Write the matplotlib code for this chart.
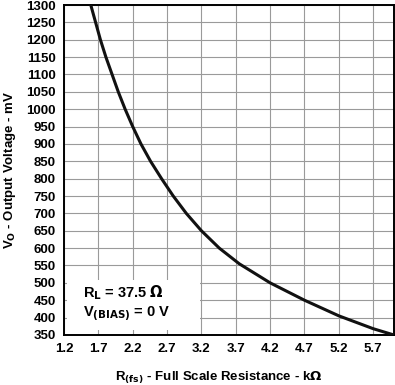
import numpy as np
import matplotlib.pyplot as plt
from matplotlib.patches import Rectangle

# Output voltage vs full scale resistance
r_fs = [1.59, 1.66, 1.73, 1.81, 1.90, 1.99, 2.09, 2.2, 2.32, 2.46, 2.62,
        2.79, 2.98, 3.2, 3.46, 3.75, 4.2, 4.7, 5.2, 5.7, 6.0]
v_out = [1300, 1250, 1200, 1150, 1100, 1050, 1000, 950, 900, 850, 800,
         750, 700, 650, 600, 555, 500, 450, 405, 368, 350]

x_ticks = [1.2, 1.7, 2.2, 2.7, 3.2, 3.7, 4.2, 4.7, 5.2, 5.7]
y_ticks = list(range(350, 1301, 50))

plt.rcParams['font.family'] = ['Liberation Sans', 'DejaVu Sans']
plt.rcParams['font.weight'] = 'bold'
plt.rcParams['mathtext.default'] = 'bf'

fig = plt.figure(figsize=(3.95, 3.85), dpi=100)
ax = fig.add_axes([0.162, 0.13, 0.835, 0.857])

ax.plot(r_fs, v_out, color='#111111', linewidth=2.2, zorder=3,
        solid_joinstyle='round')

ax.set_xlim(1.2, 6.0)
ax.set_ylim(350, 1300)
ax.set_xticks(x_ticks)
ax.set_xticklabels(["%.1f" % t for t in x_ticks])
ax.set_yticks(y_ticks)
ax.tick_params(length=0, labelsize=9.5, pad=6)
for lab in ax.get_xticklabels() + ax.get_yticklabels():
    lab.set_fontweight('bold')

ax.grid(True, color='#9a9a9a', linewidth=0.8)
ax.set_axisbelow(True)
for s in ax.spines.values():
    s.set_linewidth(1.4)
    s.set_color('black')

ax.set_xlabel(r"R$_{\mathbf{(fs)}}$ - Full Scale Resistance - k$\Omega$",
              fontsize=9.5, fontweight='bold', labelpad=10)
ax.xaxis.set_label_coords(0.47, -0.105)
ax.set_ylabel(r"V$_{\mathbf{O}}$ - Output Voltage - mV",
              fontsize=9.5, fontweight='bold', labelpad=6)

# white panel behind the condition note
ax.add_patch(Rectangle((1.245, 364), 1.94, 144, facecolor='white',
                       edgecolor='none', zorder=2))
ax.text(1.47, 459, "R$_{\\mathbf{L}}$ = 37.5 $\\Omega$", fontsize=10.5,
        fontweight='bold', va='baseline', ha='left', zorder=4)
ax.text(1.47, 401, "V$_{\\mathbf{(BIAS)}}$ = 0 V", fontsize=10.5,
        fontweight='bold', va='baseline', ha='left', zorder=4)

fig.savefig('out.png', dpi=100)
